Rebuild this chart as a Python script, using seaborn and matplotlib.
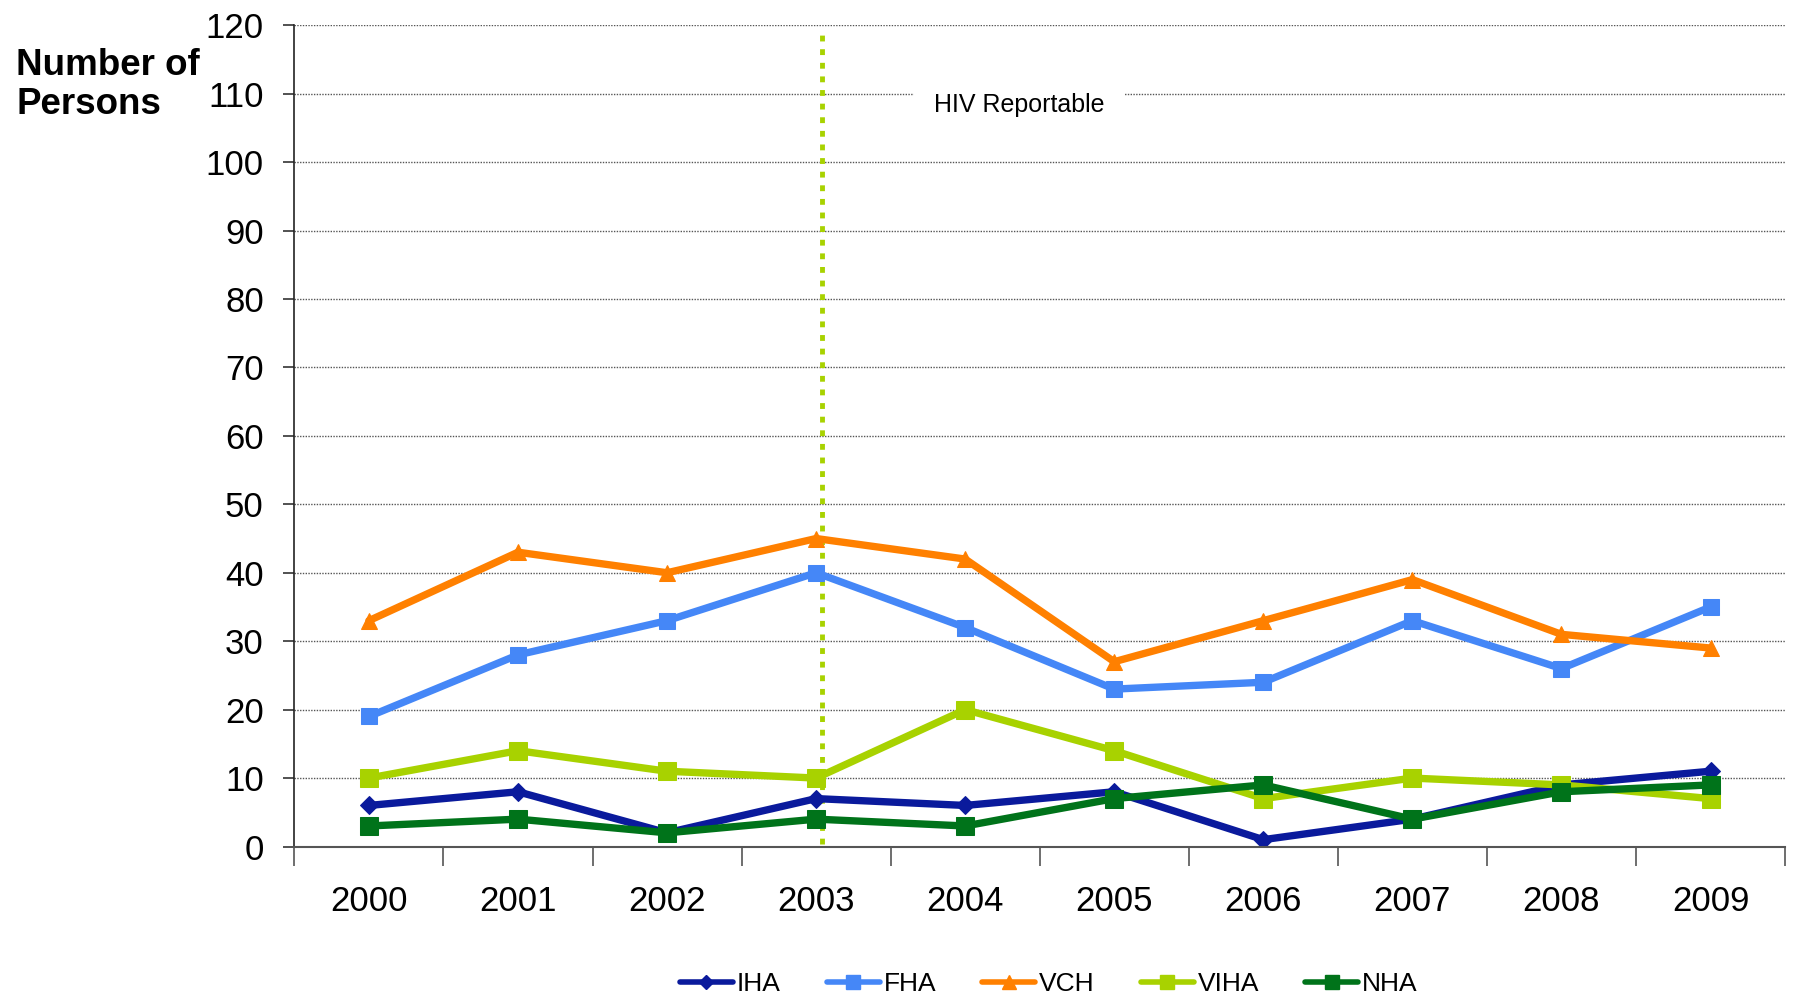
import matplotlib
matplotlib.use('Agg')
import matplotlib.pyplot as plt
import seaborn as sns
import pandas as pd
from matplotlib.lines import Line2D

# data
years = ['2000', '2001', '2002', '2003', '2004', '2005', '2006', '2007', '2008', '2009']
iha = [6, 8, 2, 7, 6, 8, 1, 4, 9, 11]
fha = [19, 28, 33, 40, 32, 23, 24, 33, 26, 35]
vch = [33, 43, 40, 45, 42, 27, 33, 39, 31, 29]
viha = [10, 14, 11, 10, 20, 14, 7, 10, 9, 7]
nha = [3, 4, 2, 4, 3, 7, 9, 4, 8, 9]

series_names = ['IHA', 'FHA', 'VCH', 'VIHA', 'NHA']
series_vals = [iha, fha, vch, viha, nha]
colors = ['#0A1A9C', '#4587F7', '#FF8000', '#A8D200', '#00731A']
markers = ['D', 's', '^', 's', 's']
msizes = [9, 12, 12, 13, 13]

sns.set_style('white')
plt.rcParams['font.family'] = ['Liberation Sans', 'DejaVu Sans']
plt.rcParams['text.color'] = 'black'
plt.rcParams['xtick.color'] = 'black'
plt.rcParams['ytick.color'] = 'black'

rows = []
for name, vals in zip(series_names, series_vals):
    for i, v in enumerate(vals):
        rows.append({'pos': i, 'year': years[i], 'region': name, 'persons': v})
df = pd.DataFrame(rows)

fig = plt.figure(figsize=(17.96, 10.05), dpi=100)
ax = fig.add_axes([0.1639, 0.1577, 0.8300, 0.8172])

for name, col, mk, ms in zip(series_names, colors, markers, msizes):
    sub = df[df['region'] == name]
    sns.lineplot(data=sub, x='pos', y='persons', ax=ax, color=col, marker=mk,
                 markersize=ms, markeredgecolor=col, linewidth=5.3, label=name,
                 legend=False)

# HIV reportable marker line
ax.plot([3.04, 3.04], [0.4, 118.5], color='#A8D200', linestyle=(0, (1.2, 1.6)),
        linewidth=3.5, zorder=1)
ax.text(4.36, 108.4, 'HIV Reportable', fontsize=18, ha='center', va='center',
        bbox=dict(facecolor='white', edgecolor='none', pad=14), zorder=2)

ax.set_xlim(-0.5, 9.5)
ax.set_ylim(0, 120)
ax.set_yticks(range(0, 121, 10))
ax.set_xticks(range(len(years)))
ax.set_xticklabels(years)
ax.set_xticks([i - 0.5 for i in range(len(years) + 1)], minor=True)
ax.tick_params(axis='x', which='major', length=0, pad=28, labelsize=25,
               labelcolor='black')
ax.tick_params(axis='x', which='minor', length=14, width=1.2, color='#555555',
               direction='out', bottom=True)
ax.tick_params(axis='y', length=8, width=1.2, color='#333333', pad=14,
               labelsize=25, labelcolor='black', left=True, direction='out')
ax.set_xlabel('')
ax.set_ylabel('')

ax.yaxis.grid(True, color='#555555', linestyle=(0, (1, 1)), linewidth=1)
ax.xaxis.grid(False)
ax.set_axisbelow(True)
for side in ['top', 'right']:
    ax.spines[side].set_visible(False)
ax.spines['left'].set_color('#222222')
ax.spines['left'].set_linewidth(1.2)
ax.spines['bottom'].set_color('#555555')
ax.spines['bottom'].set_linewidth(1.5)

fig.text(0.009, 0.915, 'Number of\nPersons', fontsize=26.5, fontweight='bold',
         ha='left', va='center', linespacing=1.15, color='black')

handles = [Line2D([0], [0], color=c, marker=m, markersize=s * 0.8, linewidth=4,
                  markeredgecolor=c) for c, m, s in zip(colors, markers, msizes)]
fig.legend(handles, series_names, loc='center', bbox_to_anchor=(0.584, 0.021),
           ncol=5, frameon=False, fontsize=19, handlelength=2.0,
           handletextpad=0.15, columnspacing=1.75)

plt.savefig('out.png', dpi=100)
